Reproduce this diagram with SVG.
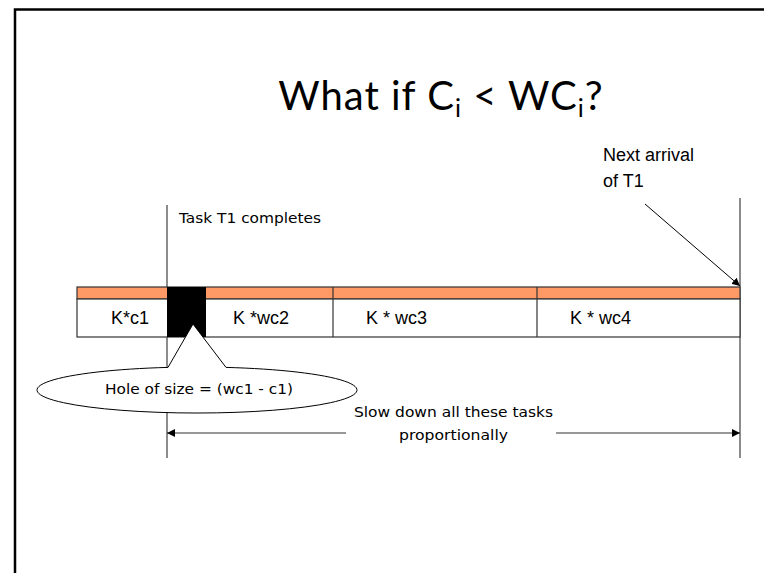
<svg xmlns="http://www.w3.org/2000/svg" width="764" height="573" viewBox="0 0 764 573">
<defs>
<style>
.frame{fill:none;stroke:#000;stroke-width:2.5}
.guide{stroke:#666;stroke-width:1.5;fill:none}
.cell{fill:#fff;stroke:#333;stroke-width:1.2}
.strip{fill:#FF9966;stroke:#333;stroke-width:1.2}
.lbl{font-family:"Liberation Sans",Arial,sans-serif;font-size:18px;fill:#000}
.comic{font-family:"DejaVu Sans","Liberation Sans",sans-serif;font-size:14px;fill:#000}
.conn{stroke:#000;stroke-width:1;fill:none}
.dim{stroke:#333;stroke-width:1.2;fill:none}
</style>
<marker id="ah" viewBox="0 0 10 10" refX="10" refY="5" markerWidth="8" markerHeight="8" markerUnits="userSpaceOnUse" orient="auto">
<path d="M0,0 L10,5 L0,10 Z" fill="#000"/>
</marker>
</defs>
<rect width="764" height="573" fill="#fff"/>
<path class="frame" d="M15,580 V9.5 H770"/>
<text x="441" y="110" text-anchor="middle" font-family="Lato,'Open Sans',sans-serif" font-size="40" letter-spacing="1" fill="#000">What if C<tspan font-size="25" dy="7">i</tspan><tspan dy="-7"> &lt; WC</tspan><tspan font-size="25" dy="7">i</tspan><tspan dy="-7">?</tspan></text>

<g id="guides">
<line class="guide" x1="167" y1="205" x2="167" y2="458"/>
<line class="guide" x1="740" y1="198" x2="740" y2="458"/>
</g>

<g id="bar">
<rect class="strip" x="77" y="287" width="663" height="12"/>
<rect class="cell" x="77" y="299" width="663" height="38"/>
<line class="cell" x1="333" y1="287" x2="333" y2="337"/>
<line class="cell" x1="537" y1="287" x2="537" y2="337"/>
<rect id="hole" x="167" y="287" width="39" height="50" fill="#000"/>
<text class="lbl" x="111" y="324">K*c1</text>
<text class="lbl" x="233" y="324">K *wc2</text>
<text class="lbl" x="366" y="324">K * wc3</text>
<text class="lbl" x="570" y="324">K * wc4</text>
</g>

<g id="task-completes">
<text class="comic" x="179" y="223" textLength="142" lengthAdjust="spacingAndGlyphs">Task T1 completes</text>
</g>

<g id="next-arrival">
<text class="lbl" x="603" y="161">Next arrival</text>
<text class="lbl" x="603" y="187">of T1</text>
</g>

<g id="hole-callout">
<path d="M168,367.4 L193,324 L226,367.4 A160,23 0 1 1 168,367.4 Z" fill="#fff" stroke="#000" stroke-width="1"/>
<text class="comic" x="105" y="394" font-size="15" textLength="188" lengthAdjust="spacingAndGlyphs">Hole of size = (wc1 - c1)</text>
</g>

<g id="slow-down">
<text class="comic" x="453.5" y="417" text-anchor="middle" textLength="199" lengthAdjust="spacingAndGlyphs">Slow down all these tasks</text>
<text class="comic" x="453.5" y="440" text-anchor="middle" textLength="109" lengthAdjust="spacingAndGlyphs">proportionally</text>
</g>

<g id="connectors">
<line class="conn" x1="645" y1="204" x2="740" y2="286" marker-end="url(#ah)"/>
<line class="dim" x1="346" y1="433" x2="167" y2="433" marker-end="url(#ah)"/>
<line class="dim" x1="556" y1="433" x2="740" y2="433" marker-end="url(#ah)"/>
</g>
</svg>
